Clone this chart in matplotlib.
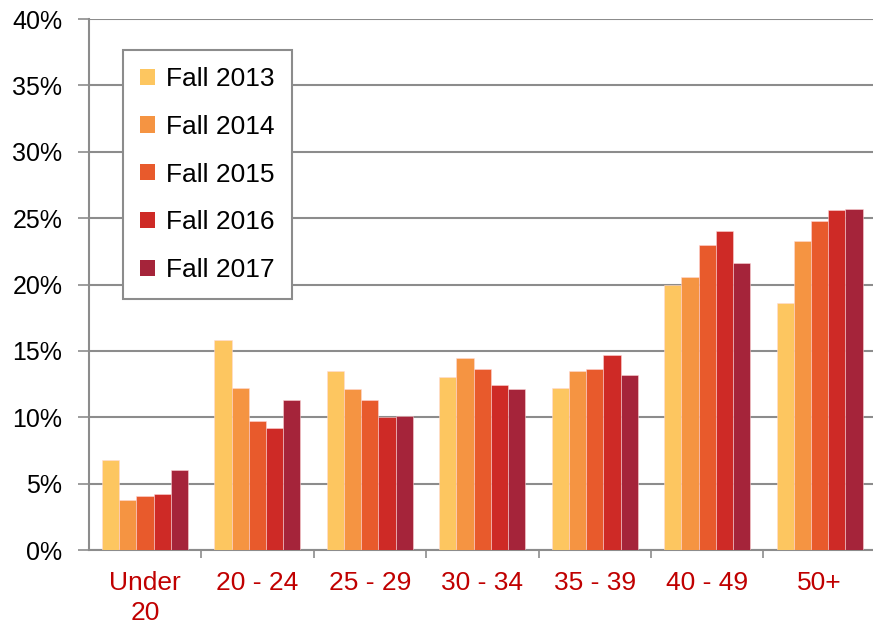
import numpy as np
import matplotlib.pyplot as plt
from matplotlib.ticker import FixedLocator, PercentFormatter

plt.rcParams['font.family'] = ['Liberation Sans', 'DejaVu Sans']

categories = ['Under\n20', '20 - 24', '25 - 29', '30 - 34', '35 - 39', '40 - 49', '50+']
series_names = ['Fall 2013', 'Fall 2014', 'Fall 2015', 'Fall 2016', 'Fall 2017']
fall_2013 = [6.8, 15.8, 13.5, 13.0, 12.2, 20.0, 18.6]
fall_2014 = [3.8, 12.2, 12.1, 14.5, 13.5, 20.6, 23.3]
fall_2015 = [4.1, 9.7, 11.3, 13.6, 13.6, 23.0, 24.8]
fall_2016 = [4.2, 9.2, 10.0, 12.4, 14.7, 24.0, 25.6]
fall_2017 = [6.0, 11.3, 10.1, 12.1, 13.2, 21.6, 25.7]
colors = ['#FDC660', '#F59442', '#E85A2C', '#CE2A26', '#A5243A']

series = [fall_2013, fall_2014, fall_2015, fall_2016, fall_2017]

fig = plt.figure(figsize=(8.73, 6.26), dpi=100)
ax = fig.add_axes([0.1017, 0.1214, 0.9015, 0.8482])

x = np.arange(len(categories))
w = 0.153
for i, (name, vals, c) in enumerate(zip(series_names, series, colors)):
    ax.bar(x + (i - 2) * w, vals, w, color=c, label=name,
           edgecolor=(1, 0.85, 0.85, 0.6), linewidth=0.6, zorder=3)

ax.set_ylim(0, 40)
ax.set_xlim(-0.5, len(categories) - 0.5)
ax.set_yticks(np.arange(0, 41, 5))
ax.yaxis.set_major_formatter(PercentFormatter(decimals=0))
ax.yaxis.grid(True, color='#8c8c8c', linewidth=1.5, zorder=0)

ax.set_xticks(x)
ax.set_xticklabels(categories, color='#C00000', fontsize=19, linespacing=1.3)
ax.xaxis.set_minor_locator(FixedLocator(x + 0.5))
ax.tick_params(axis='x', which='major', length=0, pad=15)
ax.tick_params(axis='x', which='minor', length=6, color='#8c8c8c', width=1.2)
ax.tick_params(axis='y', labelsize=18, length=8, color='#8c8c8c', width=1.2, pad=11)

for s in ['top', 'right']:
    ax.spines[s].set_visible(False)
for s in ['left', 'bottom']:
    ax.spines[s].set_color('#8c8c8c')
    ax.spines[s].set_linewidth(1.5)

leg = ax.legend(loc='upper left', bbox_to_anchor=(0.0435, 0.9416), fontsize=19,
                handlelength=0.57, handleheight=0.57, handletextpad=0.4,
                labelspacing=0.9, borderpad=0.65, fancybox=False, framealpha=1,
                edgecolor='#8c8c8c', borderaxespad=0)
leg.get_frame().set_linewidth(1.5)
for h in leg.legend_handles:
    h.set_edgecolor('none')

fig.savefig('out.png', dpi=100)
